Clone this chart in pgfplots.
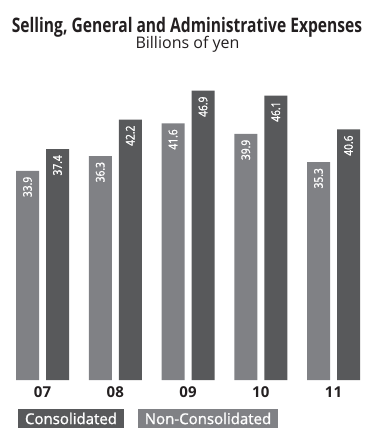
\documentclass[border=0pt]{standalone}
\usepackage{fontspec}
\setmainfont{Open Sans}
\newfontfamily\titlefont[FakeStretch=0.78]{Open Sans}
\newfontfamily\valfont[FakeStretch=0.85,FakeBold=1.2]{Open Sans}
\newfontfamily\legfont[FakeBold=1.2]{Open Sans}
\usepackage{pgfplots}
\pgfplotsset{compat=1.18}
\definecolor{lightbar}{RGB}{128,129,133}
\definecolor{darkbar}{RGB}{88,89,91}
\definecolor{txt}{RGB}{35,31,32}
\begin{document}
\begin{tikzpicture}[x=1bp,y=1bp]
\useasboundingbox (0,-48) rectangle (366,380);
\begin{axis}[
  anchor=south west,
  scale only axis, width=366bp, height=308.5bp,
  xmin=-0.5842, xmax=4.4467, ymin=0, ymax=50,
  axis line style={draw=none}, tick style={draw=none},
  ytick=\empty,
  xtick={0,1,2,3,4}, xticklabels={07,08,09,10,11},
  xticklabel style={font=\bfseries\fontsize{15bp}{15bp}\selectfont, text=txt, anchor=north, inner sep=0pt, yshift=-2bp},
  ybar, bar width=23bp,
  nodes near coords,
  /pgf/number format/assume math mode=true,
  /pgf/number format/fixed, /pgf/number format/precision=1, /pgf/number format/fixed zerofill,
  every node near coord/.append style={rotate=90, anchor=east, white, inner sep=0pt, outer xsep=6bp,
     font=\valfont\fontsize{12bp}{12bp}\selectfont},
  clip=false,
]
\addplot[fill=lightbar, draw=none, bar shift=-15bp] coordinates {(0,33.9) (1,36.3) (2,41.6) (3,39.9) (4,35.3)};
\addplot[fill=darkbar, draw=none, bar shift=15bp] coordinates {(0,37.4) (1,42.2) (2,46.9) (3,46.1) (4,40.6)};
\end{axis}
\node[text=txt, font=\titlefont\bfseries\fontsize{20bp}{20bp}\selectfont] at (187,353) {Selling, General and Administrative Expenses};
\node[text=txt, font=\fontsize{16bp}{16bp}\selectfont] at (187.5,336) {Billions of yen};
\node[fill=darkbar, text=white, minimum width=106bp, minimum height=19bp, inner sep=0pt, font=\legfont\fontsize{15bp}{15bp}\selectfont] at (71,-38.5) {Consolidated};
\node[fill=lightbar, text=white, minimum width=140bp, minimum height=19bp, inner sep=0pt, font=\legfont\fontsize{15bp}{15bp}\selectfont] at (208,-38.5) {Non-Consolidated};
\end{tikzpicture}
\end{document}
